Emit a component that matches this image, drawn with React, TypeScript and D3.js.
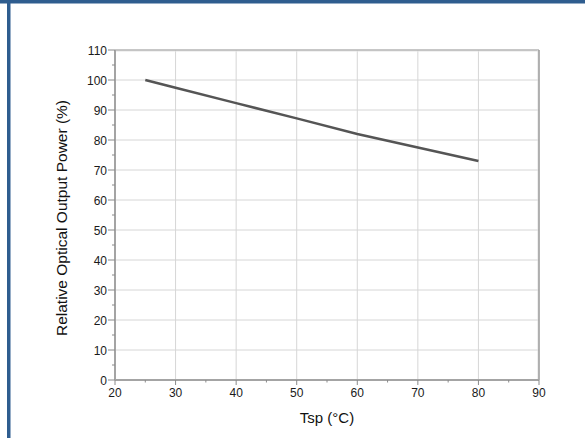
import React from "react";
import * as d3 from "d3";

const temps = [25, 30, 40, 50, 60, 70, 80];
const power = [100, 97.4, 92.3, 87.2, 82, 77.5, 73];
const xTicks = [20, 30, 40, 50, 60, 70, 80, 90];
const yTicks = [0, 10, 20, 30, 40, 50, 60, 70, 80, 90, 100, 110];
const xMinor = [25, 35, 45, 55, 65, 75, 85];
const yMinor = [5, 15, 25, 35, 45, 55, 65, 75, 85, 95, 105];
const xTitle = "Tsp (°C)";
const yTitle = "Relative Optical Output Power (%)";

export default function App() {
  const W = 585, H = 438;
  const x = d3.scaleLinear().domain([20, 90]).range([115, 539]);
  const y = d3.scaleLinear().domain([0, 110]).range([380, 50]);
  const line = d3.line<number>().x((_, i) => x(temps[i])).y((d) => y(d));
  const font = "'Liberation Sans', Arial, sans-serif";
  return (
    <svg width={W} height={H} style={{ position: "absolute", left: 0, top: 0 }} fontFamily={font}>
      <rect x={0} y={0} width={W} height={H} fill="#fff" />
      <rect x={0} y={0} width={W} height={3.5} fill="#2f5d8f" />
      <rect x={7} y={0} width={3.5} height={H} fill="#2f5d8f" />
      {xTicks.slice(1, -1).map((t) => (
        <line key={"gx" + t} x1={x(t)} x2={x(t)} y1={y(0)} y2={y(110)} stroke="#d6d6d6" strokeWidth={1} />
      ))}
      {yTicks.slice(1, -1).map((t) => (
        <line key={"gy" + t} x1={x(20)} x2={x(90)} y1={y(t)} y2={y(t)} stroke="#d6d6d6" strokeWidth={1} />
      ))}
      {/* frame */}
      <line x1={x(20)} x2={x(90)} y1={y(110) + 1} y2={y(110) + 1} stroke="#e4e4e4" strokeWidth={1} />
      <line x1={x(20)} x2={x(90)} y1={y(110)} y2={y(110)} stroke="#b4b4b4" strokeWidth={1.5} />
      <line x1={x(90) - 1} x2={x(90) - 1} y1={y(110)} y2={y(0)} stroke="#dedede" strokeWidth={1} />
      <line x1={x(90)} x2={x(90)} y1={y(110)} y2={y(0)} stroke="#9a9a9a" strokeWidth={1.5} />
      <line x1={x(20)} x2={x(90)} y1={y(0)} y2={y(0)} stroke="#a4a4a4" strokeWidth={2} />
      <line x1={x(20)} x2={x(20)} y1={y(110)} y2={y(0)} stroke="#a4a4a4" strokeWidth={2} />
      {/* ticks */}
      {yTicks.map((t) => (
        <line key={"ty" + t} x1={x(20) - 7} x2={x(20)} y1={y(t)} y2={y(t)} stroke="#8a8a8a" strokeWidth={1} />
      ))}
      {yMinor.map((t) => (
        <line key={"my" + t} x1={x(20) - 3} x2={x(20)} y1={y(t)} y2={y(t)} stroke="#8a8a8a" strokeWidth={1} />
      ))}
      {xTicks.map((t) => (
        <line key={"tx" + t} x1={x(t)} x2={x(t)} y1={y(0)} y2={y(0) + 5} stroke="#8a8a8a" strokeWidth={1} />
      ))}
      {xMinor.map((t) => (
        <line key={"mx" + t} x1={x(t)} x2={x(t)} y1={y(0)} y2={y(0) + 2.5} stroke="#8a8a8a" strokeWidth={1} />
      ))}
      {yTicks.map((t) => (
        <text key={"ly" + t} x={x(20) - 8} y={y(t) + 4.5} fontSize={12} textAnchor="end" fill="#1a1a1a">
          {t}
        </text>
      ))}
      {xTicks.map((t) => (
        <text key={"lx" + t} x={x(t)} y={y(0) + 17} fontSize={12} textAnchor="middle" fill="#1a1a1a">
          {t}
        </text>
      ))}
      <path d={line(power) || ""} fill="none" stroke="#555" strokeWidth={2.5} />
      <text x={327} y={423} fontSize={15} textAnchor="middle" fill="#111">
        {xTitle}
      </text>
      <text transform={`translate(67,${y(54)}) rotate(-90)`} fontSize={15.5} textAnchor="middle" fill="#111">
        {yTitle}
      </text>
    </svg>
  );
}
